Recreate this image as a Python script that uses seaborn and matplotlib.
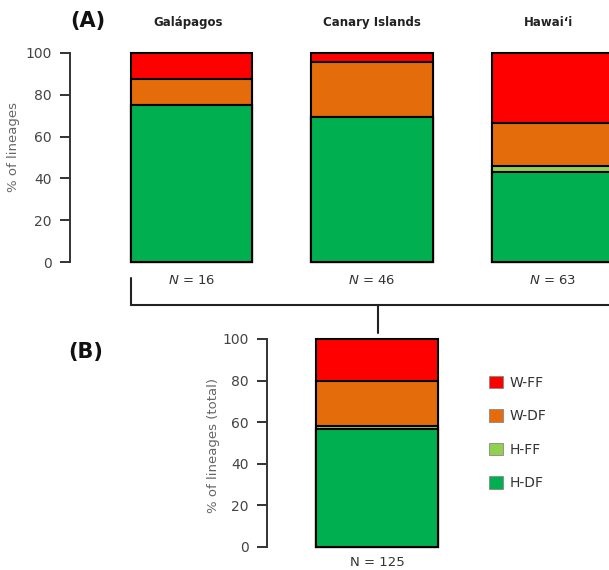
import matplotlib
matplotlib.use("Agg")
import matplotlib.pyplot as plt
import seaborn as sns
import pandas as pd
from matplotlib.patches import Patch
from matplotlib.lines import Line2D

# ---------------- data ----------------
islands = ["Galápagos", "Canary Islands", "Hawaiʻi"]
n_lineages = [16, 46, 63]
h_df = [75.0, 69.6, 42.9]
h_ff = [0.0, 0.0, 3.2]
w_df = [12.5, 26.1, 20.6]
w_ff = [12.5, 4.3, 33.3]

total_label = ["Total"]
total_n = [125]
tot_h_df = [56.8]
tot_h_ff = [1.6]
tot_w_df = [21.6]
tot_w_ff = [20.0]

categories = ["W-FF", "W-DF", "H-FF", "H-DF"]
colors = {"W-FF": "#FF0000", "W-DF": "#E46C0A", "H-FF": "#92D050", "H-DF": "#00B050"}

# ---------------- setup ----------------
sns.set_theme(style="white")
plt.rcParams["font.family"] = ["DejaVu Sans"]

W, H = 609, 570
fig = plt.figure(figsize=(W / 100, H / 100), dpi=100)

def cum_frame(labels, hdf, hff, wdf, wff):
    df = pd.DataFrame({"label": labels, "H-DF": hdf, "H-FF": hff, "W-DF": wdf, "W-FF": wff})
    df["c_H-DF"] = df["H-DF"]
    df["c_H-FF"] = df["c_H-DF"] + df["H-FF"]
    df["c_W-DF"] = df["c_H-FF"] + df["W-DF"]
    df["c_W-FF"] = df["c_W-DF"] + df["W-FF"]
    return df

unit = 180.5  # px per category step
bar_w = 121.5 / unit

def style_axis(ax):
    for s in ["top", "right", "bottom"]:
        ax.spines[s].set_visible(False)
    ax.spines["left"].set_bounds(0, 100)
    ax.spines["left"].set_color("#333333")
    ax.spines["left"].set_linewidth(1.4)
    ax.set_ylim(0, 100)
    ax.set_yticks([0, 20, 40, 60, 80, 100])
    ax.tick_params(axis="y", direction="out", length=7, width=1.4, color="#333333",
                   labelsize=10, labelcolor="#444444", pad=6, left=True)
    ax.set_xticks([])
    ax.set_xlabel("")
    ax.patch.set_alpha(0)

def draw_stack(ax, df, order):
    for cat in categories:
        sns.barplot(data=df, x="label", y="c_" + cat, order=order, color=colors[cat],
                    saturation=1, width=bar_w, edgecolor="black", linewidth=1.5, ax=ax,
                    errorbar=None)
    for p in ax.patches:
        p.set_clip_on(False)

# ---------------- panel A ----------------
axA = fig.add_axes([70 / W, (H - 262) / H, (W - 70) / W, (262 - 53) / H])
dfA = cum_frame(islands, h_df, h_ff, w_df, w_ff)
draw_stack(axA, dfA, islands)
xminA = -(191.5 - 70) / unit
axA.set_xlim(xminA, xminA + (W - 70) / unit)
style_axis(axA)
axA.set_ylabel("% of lineages", fontsize=9.5, color="#666666")
axA.yaxis.set_label_coords(-(70 - 20) / (W - 70), 0.55)
title_x = [-0.02, 0.0, -0.02]
for i, (name, n) in enumerate(zip(islands, n_lineages)):
    axA.text(i + title_x[i], 114.5, name, ha="center", va="center", fontsize=8.5,
             fontweight="bold", color="#222222", clip_on=False)
    axA.text(i, -9, r"$\it{N}$ = " + str(n), ha="center", va="center", fontsize=9.5,
             color="#333333", clip_on=False)

# ---------------- panel B ----------------
bw_px = 200
axB = fig.add_axes([267 / W, (H - 547) / H, bw_px / W, (547 - 339) / H])
dfB = cum_frame(total_label, tot_h_df, tot_h_ff, tot_w_df, tot_w_ff)
draw_stack(axB, dfB, total_label)
xminB = -(377 - 267) / unit
axB.set_xlim(xminB, xminB + bw_px / unit)
style_axis(axB)
axB.set_ylabel("% of lineages (total)", fontsize=9.5, color="#666666")
axB.yaxis.set_label_coords(-(267 - 220) / bw_px, 0.49)
axB.text(0, -7.5, "N = " + str(total_n[0]), ha="center", va="center", fontsize=9.5,
         color="#333333", clip_on=False)

# ---------------- legend ----------------
handles = [Patch(facecolor=colors[c], edgecolor="#888888", linewidth=0.6) for c in categories]
fig.legend(handles, categories, loc="upper left",
           bbox_to_anchor=(489 / W, 1 - 376 / H), frameon=False, fontsize=10,
           handlelength=1.0, handleheight=1.0, labelspacing=1.4, handletextpad=0.5,
           borderpad=0, borderaxespad=0, labelcolor="#333333")

# ---------------- panel labels & connectors ----------------
fig.text(88 / W, 1 - 21 / H, "(A)", ha="center", va="center", fontsize=15,
         fontweight="bold", color="#111111")
fig.text(86 / W, 1 - 352 / H, "(B)", ha="center", va="center", fontsize=15,
         fontweight="bold", color="#111111")

lc = "#222222"
fig.add_artist(Line2D([131 / W, 131 / W], [1 - 278 / H, 1 - 305 / H],
                      transform=fig.transFigure, color=lc, lw=1.5))
fig.add_artist(Line2D([131 / W, 1.0], [1 - 305 / H, 1 - 305 / H],
                      transform=fig.transFigure, color=lc, lw=1.5))
fig.add_artist(Line2D([378 / W, 378 / W], [1 - 305 / H, 1 - 333 / H],
                      transform=fig.transFigure, color=lc, lw=1.5))

fig.savefig("out.png", dpi=100, facecolor="white")
